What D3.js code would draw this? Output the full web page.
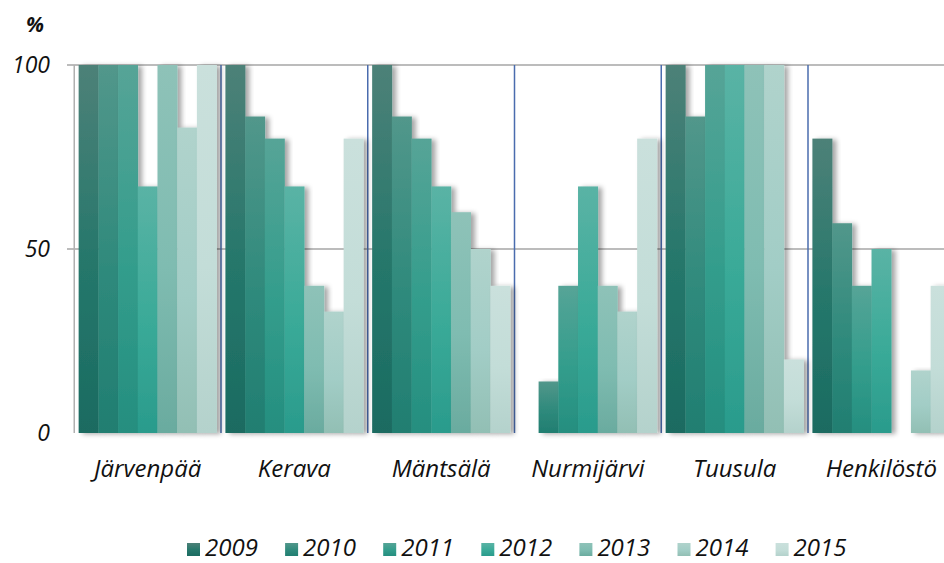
<!DOCTYPE html>
<html lang="fi">
<head>
<meta charset="UTF-8"/>
<title>Osuus kunnittain 2009-2015</title>
<script src="https://d3js.org/d3.v7.min.js"></script>
<style>
	body { margin: 0; background: #fff; }
	text { font-family: "Open Sans", sans-serif; font-style: italic; fill: #111; }
	.grid { stroke: #a6a6a6; stroke-width: 1.5; }
	.sep { stroke: #4a6cae; stroke-width: 1.5; }
</style>
</head>
<body>
<div id="chart"></div>
<script>
var categories = ["Järvenpää", "Kerava", "Mäntsälä", "Nurmijärvi", "Tuusula", "Henkilöstö"];
var years = ["2009", "2010", "2011", "2012", "2013", "2014", "2015"];
// one array per year, values in the same order as categories
var v2009 = [100, 100, 100, 0, 100, 80];
var v2010 = [100, 86, 86, 14, 86, 57];
var v2011 = [100, 80, 80, 40, 100, 40];
var v2012 = [67, 67, 67, 67, 100, 50];
var v2013 = [100, 40, 60, 40, 100, 0];
var v2014 = [83, 33, 50, 33, 100, 17];
var v2015 = [100, 80, 40, 80, 20, 40];
var yTicks = [0, 50, 100];

var series = [v2009, v2010, v2011, v2012, v2013, v2014, v2015];
// top / middle / bottom colours of each year's gradient
var shades = [
	["#4d8178", "#25776b", "#1b6b61"],
	["#52978b", "#2f8a7c", "#217e71"],
	["#56a497", "#339d8c", "#258e7f"],
	["#5ab3a5", "#3aaa98", "#2a9b8c"],
	["#8ec2b8", "#7fbcb1", "#6aab9f"],
	["#b0d3cc", "#a2cdc6", "#92bfb4"],
	["#cae0dc", "#c3ddd8", "#b4d2cc"]
];

var w = 944, h = 563;
var plotLeft = 74.25, plotTop = 65, plotBottom = 433, band = 146.75;

var svg = d3.select("#chart").append("svg")
	.attr("width", w).attr("height", h);

var defs = svg.append("defs");
years.forEach(function(y, i) {
	var g = defs.append("linearGradient")
		.attr("id", "g" + y)
		.attr("x1", 0).attr("y1", 0).attr("x2", 0).attr("y2", 1);
	g.append("stop").attr("offset", "0%").attr("stop-color", shades[i][0]);
	g.append("stop").attr("offset", "55%").attr("stop-color", shades[i][1]);
	g.append("stop").attr("offset", "100%").attr("stop-color", shades[i][2]);
});
defs.append("filter").attr("id", "shadow")
	.attr("x", "-20%").attr("y", "-5%").attr("width", "160%").attr("height", "115%")
	.append("feDropShadow")
	.attr("dx", 4).attr("dy", 1).attr("stdDeviation", 2.5)
	.attr("flood-color", "#000").attr("flood-opacity", 0.35);
defs.append("filter").attr("id", "lineshadow")
	.attr("x", "-5%").attr("y", "-300%").attr("width", "110%").attr("height", "700%")
	.append("feDropShadow")
	.attr("dx", 0).attr("dy", 2).attr("stdDeviation", 1.5)
	.attr("flood-color", "#000").attr("flood-opacity", 0.35);

var xScale = d3.scaleBand()
	.domain(categories)
	.range([plotLeft, plotLeft + band * categories.length]);

var inner = d3.scaleBand()
	.domain(years)
	.range([4.4, band - 4.4]);

var yScale = d3.scaleLinear()
	.domain([0, 100])
	.range([plotBottom, plotTop]);

// gridlines with small ticks
svg.selectAll(".grid")
	.data(yTicks.filter(function(d) { return d > 0; }))
	.enter().append("line")
	.attr("class", "grid")
	.attr("x1", 67).attr("x2", w)
	.attr("y1", function(d) { return yScale(d); })
	.attr("y2", function(d) { return yScale(d); });

// left axis line
svg.append("line")
	.attr("x1", plotLeft).attr("x2", plotLeft)
	.attr("y1", plotTop).attr("y2", plotBottom)
	.attr("stroke", "#b0b0b0").attr("stroke-width", 1.5);

// category separators
svg.selectAll(".sep")
	.data(categories.slice(1))
	.enter().append("line")
	.attr("class", "sep")
	.attr("x1", function(d) { return xScale(d); })
	.attr("x2", function(d) { return xScale(d); })
	.attr("y1", plotTop).attr("y2", plotBottom);

// bars
categories.forEach(function(c, ci) {
	var g = svg.append("g");
	g.selectAll("rect")
		.data(years.map(function(y, yi) { return { year: y, value: series[yi][ci] }; })
			.filter(function(d) { return d.value > 0; }))
		.enter().append("rect")
		.attr("x", function(d) { return xScale(c) + inner(d.year); })
		.attr("y", function(d) { return yScale(d.value); })
		.attr("width", inner.bandwidth() + 0.3)
		.attr("height", function(d) { return yScale(0) - yScale(d.value); })
		.attr("fill", function(d) { return "url(#g" + d.year + ")"; })
		.attr("filter", "url(#shadow)");
});

// baseline
svg.append("line")
	.attr("x1", 67).attr("x2", w)
	.attr("y1", plotBottom).attr("y2", plotBottom)
	.attr("stroke", "#9a9a9a").attr("stroke-width", 2)
	.attr("filter", "url(#lineshadow)");

// y labels
svg.selectAll(".ylab")
	.data(yTicks)
	.enter().append("text")
	.attr("class", "ylab")
	.attr("x", 50)
	.attr("y", function(d) { return yScale(d) + 8; })
	.attr("text-anchor", "end")
	.style("font-size", "23px")
	.text(function(d) { return d; });

svg.append("text")
	.attr("x", 35).attr("y", 32)
	.attr("text-anchor", "middle")
	.style("font-size", "21px").style("font-weight", "bold")
	.text("%");

// category labels
svg.selectAll(".xlab")
	.data(categories)
	.enter().append("text")
	.attr("class", "xlab")
	.attr("x", function(d) { return xScale(d) + xScale.bandwidth() / 2; })
	.attr("y", 477)
	.attr("text-anchor", "middle")
	.style("font-size", "24px")
	.text(function(d) { return d; });

// legend
var legend = svg.selectAll(".leg")
	.data(years)
	.enter().append("g")
	.attr("class", "leg")
	.attr("transform", function(d, i) { return "translate(" + (187 + i * 98.1) + ",0)"; });
legend.append("rect")
	.attr("x", 0).attr("y", 543)
	.attr("width", 13).attr("height", 13)
	.attr("fill", function(d) { return "url(#g" + d + ")"; });
legend.append("text")
	.attr("x", 18).attr("y", 556)
	.style("font-size", "24px")
	.text(function(d) { return d; });
</script>
</body>
</html>
